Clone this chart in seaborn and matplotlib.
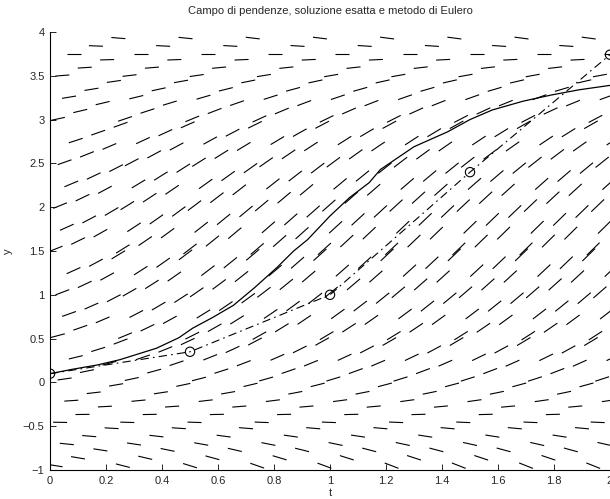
import numpy as np
import matplotlib
matplotlib.use("Agg")
import matplotlib.pyplot as plt
import seaborn as sns
from matplotlib.collections import LineCollection

# Soluzione esatta
t_esatta = [0.00, 0.08, 0.17, 0.25, 0.32, 0.38, 0.46, 0.51, 0.58, 0.655, 0.73,
            0.81, 0.87, 0.92, 1.00, 1.07, 1.14, 1.18, 1.30, 1.42, 1.50, 1.58,
            1.69, 1.79, 1.89, 2.00]
y_esatta = [0.10, 0.15, 0.20, 0.26, 0.33, 0.39, 0.51, 0.62, 0.74, 0.88, 1.08,
            1.31, 1.50, 1.63, 1.90, 2.11, 2.28, 2.43, 2.69, 2.86, 3.00, 3.11,
            3.21, 3.28, 3.34, 3.39]

# Metodo di Eulero, passo h = 0.5
t_eulero = [0.0, 0.5, 1.0, 1.5, 2.0]
y_eulero = [0.10, 0.35, 1.00, 2.40, 3.74]

x_ticks = [0, 0.2, 0.4, 0.6, 0.8, 1, 1.2, 1.4, 1.6, 1.8, 2]
y_ticks = [-1, -0.5, 0, 0.5, 1, 1.5, 2, 2.5, 3, 3.5, 4]

# Punti del campo di pendenze: griglia con righe sfalsate
t_campo = np.linspace(0.02, 1.94, 25)
y_campo = np.linspace(-0.95, 3.75, 20)
sfasamento_righe = [0.0, 0.5, 0.2, 0.7, 0.4, 0.9, 0.1, 0.6, 0.3, 0.8]
sfasamento_colonne = [0.0, 0.09, 0.18]


def pendenza(t, y):
    # f(t, y) dell'equazione differenziale, stimata dal campo disegnato
    a = 1.2 + 2.0 * (1 - np.exp(-2 * t))
    return a * np.sin(np.pi * (y + 0.4) / 4.15)


sns.set_style("ticks")
plt.rcParams["font.family"] = ["Liberation Sans", "DejaVu Sans"]
plt.rcParams["lines.scale_dashes"] = False

fig = plt.figure(figsize=(6.10, 4.99), dpi=100)
ax = fig.add_axes([0.082, 0.058, 0.918, 0.878])

# Campo di pendenze
passo_t = t_campo[1] - t_campo[0]
segmenti = []
for j, yc in enumerate(y_campo):
    for i, tc in enumerate(t_campo):
        tt = tc + sfasamento_righe[j % 10] * passo_t
        yy = yc + sfasamento_colonne[i % 3]
        f = pendenza(tt, yy)
        dt = 0.05 / np.sqrt(1 + (f / 7.0) ** 2)
        dy = f * dt
        segmenti.append([(tt - dt / 2, yy - dy / 2), (tt + dt / 2, yy + dy / 2)])
ax.add_collection(LineCollection(segmenti, colors="black", linewidths=0.8))

# Soluzione esatta
sns.lineplot(x=t_esatta, y=y_esatta, ax=ax, color="black", linewidth=0.9,
             sort=False, estimator=None)

# Metodo di Eulero
ax.plot(t_eulero, y_eulero, color="black", linewidth=0.8,
        linestyle=(0, (6, 3, 1.2, 3)))
sns.scatterplot(x=t_eulero, y=y_eulero, ax=ax, marker="o", s=45,
                facecolor="none", edgecolor="black", linewidth=0.8, zorder=5)

ax.set_xlim(0, 2)
ax.set_ylim(-1, 4)
ax.set_xticks(x_ticks)
ax.set_xticklabels([f"{v:g}" for v in x_ticks])
ax.set_yticks(y_ticks)
ax.set_yticklabels([f"{v:g}".replace("-", "\u2212") for v in y_ticks])
ax.tick_params(direction="in", length=4, width=0.7, labelsize=8, pad=4)
sns.despine(ax=ax)
for lato in ["left", "bottom"]:
    ax.spines[lato].set_linewidth(0.8)
    ax.spines[lato].set_color("black")

ax.set_title("Campo di pendenze, soluzione esatta e metodo di Eulero",
             fontsize=8, pad=13)
ax.set_xlabel("t", fontsize=8, labelpad=2)
ax.set_ylabel("y", fontsize=8, labelpad=7)

fig.savefig("out.png", dpi=100)
